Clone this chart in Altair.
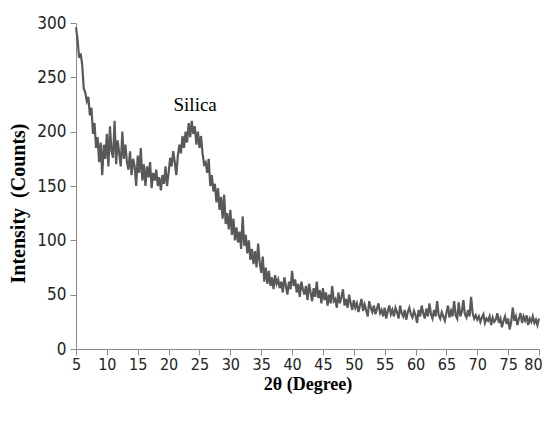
import altair as alt
import numpy as np
import pandas as pd

start_angle = 5.0
step = 0.25
intensity = [
    296, 285, 268, 272,
    262, 240, 236, 228,
    232, 215, 222, 198,
    208, 185, 195, 172,
    190, 160, 188, 175,
    198, 168, 205, 182,
    176, 210, 170, 192,
    180, 168, 200, 175,
    188, 172, 165, 182,
    160, 175, 168, 150,
    178, 162, 185, 155,
    170, 150, 168, 158,
    172, 148, 162, 155,
    165, 150, 158, 146,
    160, 152, 168, 150,
    162, 176, 168, 182,
    172, 160, 178, 188,
    180, 196, 185, 200,
    190, 208, 195, 210,
    198, 205, 188, 200,
    185, 196, 180, 170,
    172, 162, 175, 150,
    160, 145, 152, 135,
    148, 128, 140, 120,
    142, 115, 125, 110,
    128, 105, 120, 100,
    112, 98, 108, 92,
    122, 95, 105, 88,
    100, 82, 92, 78,
    90, 75, 97, 80,
    70, 85, 62, 75,
    60, 72, 58, 66,
    55, 68, 60, 64,
    56, 62, 52, 66,
    58, 50, 62, 55,
    72, 58, 64, 52,
    60, 48, 62, 55,
    50, 58, 45, 60,
    52, 44, 56, 48,
    62, 47, 54, 42,
    56, 45, 52, 40,
    50, 42, 58, 44,
    46, 38, 52, 42,
    48, 55, 40, 46,
    38, 50, 42, 36,
    45, 38, 42, 34,
    40, 46, 35, 41,
    36, 30, 44, 38,
    34, 40, 32, 37,
    42, 33, 36, 30,
    38, 28, 35, 40,
    32, 36, 30, 38,
    34, 28, 40, 33,
    30, 36, 27, 34,
    38, 32, 29, 35,
    31, 24, 36, 30,
    40, 33, 28, 37,
    30, 42, 32, 28,
    36, 30, 44, 31,
    28, 34, 30, 26,
    33, 40, 29, 35,
    30, 44, 31, 28,
    43, 30, 34, 45,
    32, 29, 36, 30,
    48, 33, 28, 31,
    27, 30, 25, 29,
    32, 24, 28, 26,
    30, 22, 29, 25,
    27, 33, 24, 28,
    20, 26, 30, 23,
    28, 18, 25, 38,
    26, 30, 22, 28,
    33, 24, 30, 26,
    31, 22, 28, 25,
    30, 24, 27, 22,
    28,
]
angles = start_angle + step * np.arange(len(intensity))

x_ticks = list(range(5, 81, 5))
y_ticks = list(range(0, 301, 50))

label_text = ["Silica"]
label_x = [24.3]
label_y = [225]

df = pd.DataFrame({"angle": angles, "intensity": intensity})
lab = pd.DataFrame({"x": label_x, "y": label_y, "t": label_text})

tick_font = "Liberation Sans Narrow, DejaVu Sans Condensed, sans-serif"
title_font = "Liberation Serif, Times New Roman, serif"

x_enc = alt.X(
    "angle:Q",
    scale=alt.Scale(domain=[5, 80], nice=False, zero=False),
    axis=alt.Axis(
        values=x_ticks, tickCount=40, title="2θ (Degree)", grid=False,
        labelFont=tick_font, labelFontSize=16, labelColor="#222222",
        labelPadding=1, tickSize=6, tickColor="#8a8a8a", domainColor="#8a8a8a",
        titleFont=title_font, titleFontSize=18, titleFontWeight="bold",
        titleColor="#000000", titlePadding=3, labelFlush=False,
        labelOverlap=False,
        labelOffset={"condition": {"test": "datum.value == 80", "value": -6}, "value": 0},
    ),
)
y_enc = alt.Y(
    "intensity:Q",
    scale=alt.Scale(domain=[0, 300], nice=False),
    axis=alt.Axis(
        values=y_ticks, tickCount=20, title="Intensity\u00a0\u00a0(Counts)", grid=False,
        labelFont=tick_font, labelFontSize=17, labelColor="#222222",
        labelPadding=4, tickSize=6, tickColor="#8a8a8a", domainColor="#8a8a8a",
        titleFont=title_font, titleFontSize=20, titleFontWeight="bold",
        titleColor="#000000", titlePadding=8, labelFlush=False, titleY=180,
        labelOverlap=False,
    ),
)

line = alt.Chart(df).mark_line(color="#595959", strokeWidth=2.2).encode(x=x_enc, y=y_enc)

text = alt.Chart(lab).mark_text(
    font=title_font, fontSize=19, color="#000000", align="center", baseline="middle"
).encode(x="x:Q", y="y:Q", text="t:N")

chart = (
    alt.layer(line, text)
    .properties(
        width=463,
        height=326,
        autosize=alt.AutoSizeParams(type="none"),
        padding={"left": 68, "top": 15, "right": 3, "bottom": 64},
    )
    .configure_view(stroke=None)
)

chart.save("out.html", embed_options={"renderer": "svg", "actions": False})
